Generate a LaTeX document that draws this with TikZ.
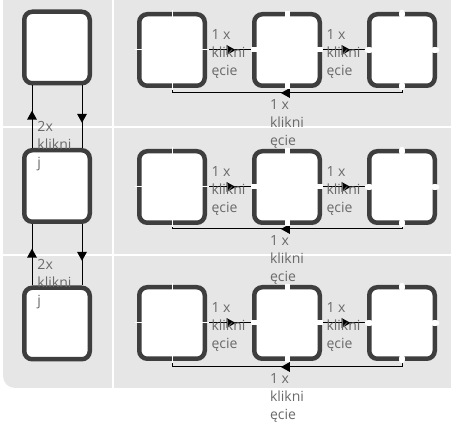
\documentclass[tikz,border=0pt]{standalone}
\usepackage{fontspec}
\setmainfont{Open Sans}
\usetikzlibrary{shapes.geometric}

\definecolor{panelgray}{HTML}{E6E6E7}
\definecolor{boxgray}{HTML}{3E3E3E}
\definecolor{textgray}{HTML}{6A6A6A}

\tikzset{
    pinbox/.style={draw=boxgray, line width=4.5pt, fill=white, rounded corners=8pt,
        minimum width=65.5pt, minimum height=71.5pt, inner sep=0pt},
    link/.style={line width=1pt, black},
    tipmark/.style={isosceles triangle, isosceles triangle stretches, fill=black, inner sep=0pt,
        minimum width=10pt, minimum height=9pt, sloped, allow upside down, anchor=center, pos=0.5},
    clicktext/.style={font=\fontsize{14}{18}\selectfont, text=textgray, align=left, inner sep=0pt},
    cutthin/.style={white, line width=1pt},
    cutgap/.style={white, line width=5pt},
    cutround/.style={white, line width=6.5pt, line cap=round}
}

\begin{document}
\begin{tikzpicture}[x=1pt, y=-1pt]
    \useasboundingbox (0,0) rectangle (451,425);
    % panel and grid
    \fill[panelgray, rounded corners=12pt] (3,-12) rectangle (463,388);
    \draw[white, line width=2pt] (113,-1) -- (113,388);
    \draw[white, line width=2pt] (3,127) -- (452,127);
    \draw[white, line width=2pt] (3,255) -- (452,255);

    % left column
    \node[pinbox] (l1) at (57,47.5) {};
    \node[pinbox] (l2) at (57,186) {};
    \node[pinbox] (l3) at (57,323.5) {};
    \draw[link] ([xshift=-25pt]l2.north) -- node[tipmark] {} node[clicktext, anchor=north west, xshift=5pt, yshift=-4pt] {2x\\klikni\\j} ([xshift=-25pt]l1.south);
    \draw[link] ([xshift=25pt]l1.south) -- node[tipmark] {} ([xshift=25pt]l2.north);
    \draw[link] ([xshift=-25pt]l3.north) -- node[tipmark] {} node[clicktext, anchor=north west, xshift=5pt, yshift=-4pt] {2x\\klikni\\j} ([xshift=-25pt]l2.south);
    \draw[link] ([xshift=25pt]l2.south) -- node[tipmark] {} ([xshift=25pt]l3.north);

    % row 1
    \coordinate (r1) at (402,93);
    \coordinate (q1) at (172,93);
    \draw[link] (402,88) -- (r1);
    \draw[link] (q1) -- (172,88);
    \draw[link] (r1) -- node[tipmark] {} node[clicktext, anchor=north, yshift=-6pt] {1 x\\klikni\\ęcie} (q1);
    \node[pinbox] (a1) at (172,50) {};
    \node[pinbox] (b1) at (287,50) {};
    \node[pinbox] (c1) at (402,50) {};
    \draw[link] (a1) -- node[tipmark] {} node[pos=0, clicktext, anchor=west, xshift=4pt, yshift=-4pt] {1 x\\klikni\\ęcie} (b1);
    \draw[link] (b1) -- node[tipmark] {} node[pos=0, clicktext, anchor=west, xshift=4pt, yshift=-4pt] {1 x\\klikni\\ęcie} (c1);
    \draw[cutthin] (a1.north) ++(0,-2) -- ++(0,8) (a1.south) ++(0,2) -- ++(0,-8) (a1.west) ++(-2,0) -- ++(8,0) (a1.east) ++(2,0) -- ++(-8,0);
    \draw[cutgap] (b1.north) ++(0,-1) -- ++(0,6) (b1.south) ++(0,1) -- ++(0,-6) (b1.west) ++(-1,0) -- ++(6,0) (b1.east) ++(1,0) -- ++(-6,0);
    \draw[cutround] (c1.north) ++(0,1) -- ++(0,2) (c1.south) ++(0,-1) -- ++(0,-2) (c1.west) ++(1,0) -- ++(2,0) (c1.east) ++(-1,0) -- ++(-2,0);

    % row 2
    \coordinate (r2) at (402,229);
    \coordinate (q2) at (172,229);
    \draw[link] (402,225) -- (r2);
    \draw[link] (q2) -- (172,225);
    \draw[link] (r2) -- node[tipmark] {} node[clicktext, anchor=north, yshift=-6pt] {1 x\\klikni\\ęcie} (q2);
    \node[pinbox] (a2) at (172,187) {};
    \node[pinbox] (b2) at (287,187) {};
    \node[pinbox] (c2) at (402,187) {};
    \draw[link] (a2) -- node[tipmark] {} node[pos=0, clicktext, anchor=west, xshift=4pt, yshift=-4pt] {1 x\\klikni\\ęcie} (b2);
    \draw[link] (b2) -- node[tipmark] {} node[pos=0, clicktext, anchor=west, xshift=4pt, yshift=-4pt] {1 x\\klikni\\ęcie} (c2);
    \draw[cutthin] (a2.north) ++(0,-2) -- ++(0,8) (a2.south) ++(0,2) -- ++(0,-8) (a2.west) ++(-2,0) -- ++(8,0) (a2.east) ++(2,0) -- ++(-8,0);
    \draw[cutgap] (b2.north) ++(0,-1) -- ++(0,6) (b2.south) ++(0,1) -- ++(0,-6) (b2.west) ++(-1,0) -- ++(6,0) (b2.east) ++(1,0) -- ++(-6,0);
    \draw[cutround] (c2.north) ++(0,1) -- ++(0,2) (c2.south) ++(0,-1) -- ++(0,-2) (c2.west) ++(1,0) -- ++(2,0) (c2.east) ++(-1,0) -- ++(-2,0);

    % row 3
    \coordinate (r3) at (402,367);
    \coordinate (q3) at (172,367);
    \draw[link] (402,361) -- (r3);
    \draw[link] (q3) -- (172,361);
    \draw[link] (r3) -- node[tipmark] {} node[clicktext, anchor=north, yshift=-6pt] {1 x\\klikni\\ęcie} (q3);
    \node[pinbox] (a3) at (172,323) {};
    \node[pinbox] (b3) at (287,323) {};
    \node[pinbox] (c3) at (402,323) {};
    \draw[link] (a3) -- node[tipmark] {} node[pos=0, clicktext, anchor=west, xshift=4pt, yshift=-4pt] {1 x\\klikni\\ęcie} (b3);
    \draw[link] (b3) -- node[tipmark] {} node[pos=0, clicktext, anchor=west, xshift=4pt, yshift=-4pt] {1 x\\klikni\\ęcie} (c3);
    \draw[cutthin] (a3.north) ++(0,-2) -- ++(0,8) (a3.south) ++(0,2) -- ++(0,-8) (a3.west) ++(-2,0) -- ++(8,0) (a3.east) ++(2,0) -- ++(-8,0);
    \draw[cutgap] (b3.north) ++(0,-1) -- ++(0,6) (b3.south) ++(0,1) -- ++(0,-6) (b3.west) ++(-1,0) -- ++(6,0) (b3.east) ++(1,0) -- ++(-6,0);
    \draw[cutround] (c3.north) ++(0,1) -- ++(0,2) (c3.south) ++(0,-1) -- ++(0,-2) (c3.west) ++(1,0) -- ++(2,0) (c3.east) ++(-1,0) -- ++(-2,0);
\end{tikzpicture}
\end{document}
